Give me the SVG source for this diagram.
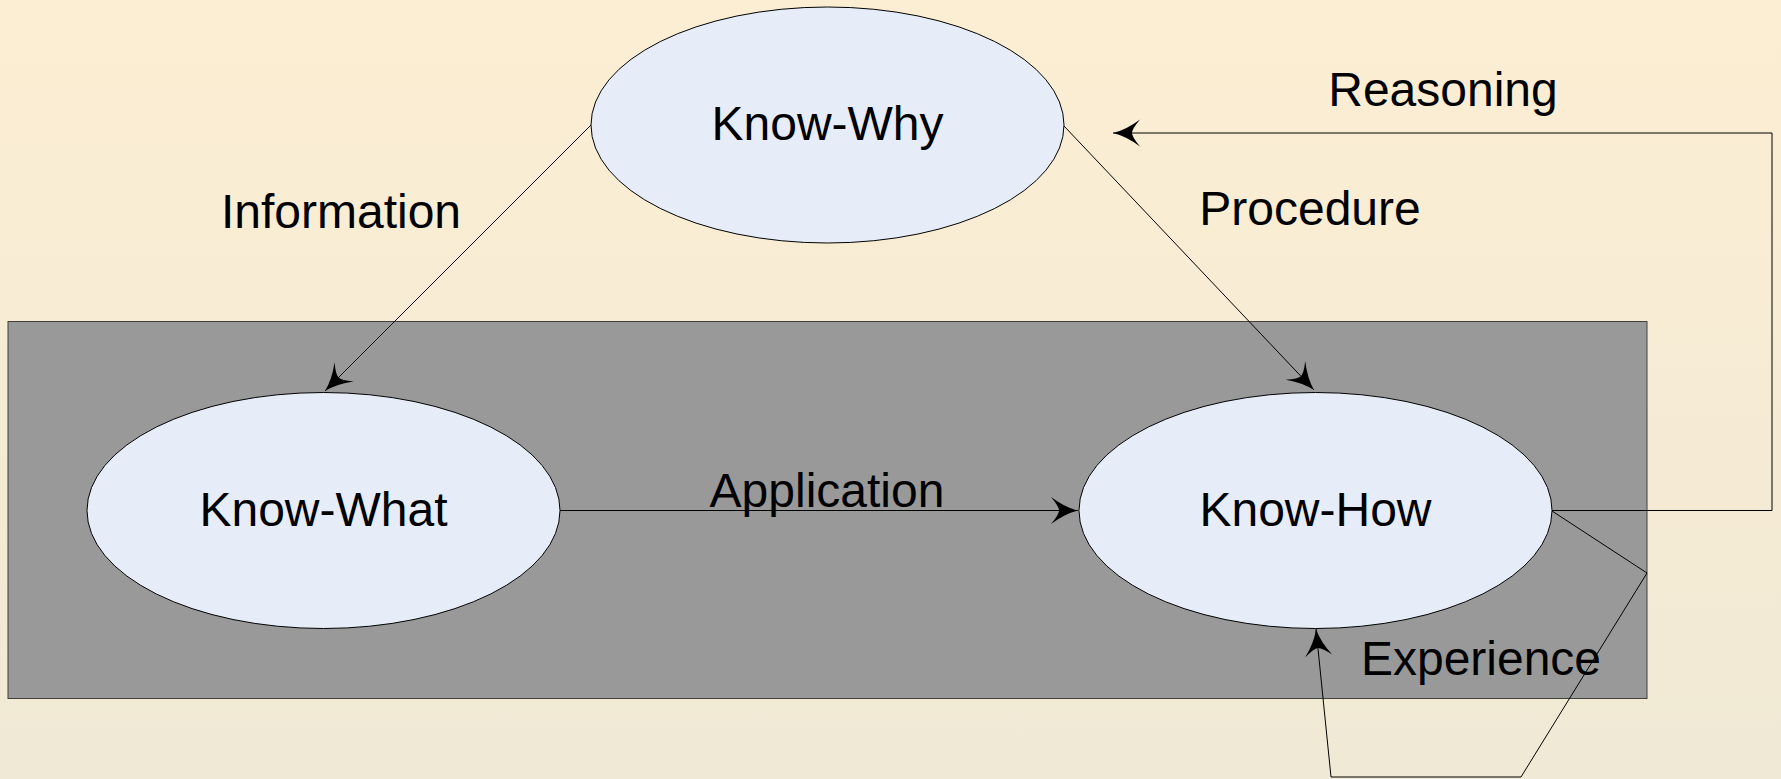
<svg xmlns="http://www.w3.org/2000/svg" width="1781" height="779" viewBox="0 0 1781 779">
  <defs>
    <linearGradient id="bg" x1="0" y1="0" x2="0" y2="1">
      <stop offset="0" stop-color="#FCEED3"/>
      <stop offset="1" stop-color="#F0E9D5"/>
    </linearGradient>
    <!-- curved, swept-back arrowhead; tip sits on the path end -->
    <marker id="arrow" markerUnits="userSpaceOnUse" viewBox="-30 -16 32 32" markerWidth="32" markerHeight="32" refX="0" refY="0" orient="auto" overflow="visible">
      <path d="M0,0 Q-13,-3 -27,-13.5 Q-19,-4 -19,0 Q-19,4 -27,13.5 Q-13,3 0,0 Z" fill="#000"/>
    </marker>
    <style>
      .node { fill: #E6EDF8; stroke: #000; stroke-width: 1; }
      .label { font-family: "Liberation Sans", Arial, sans-serif; font-size: 48px; fill: #000; text-anchor: middle; }
      .conn { fill: none; stroke: #000; stroke-width: 1; }
    </style>
  </defs>

  <!-- page background -->
  <rect x="0" y="0" width="1781" height="779" fill="url(#bg)"/>

  <!-- grey band holding the practical knowledge nodes -->
  <rect id="band" x="8" y="321.5" width="1639" height="377" fill="#999999" stroke="#404040" stroke-width="1"/>

  <!-- connectors -->
  <g id="connectors">
    <path class="conn" d="M591,125 L325,391" marker-end="url(#arrow)"/>
    <path class="conn" d="M1064,126 L1314,390" marker-end="url(#arrow)"/>
    <path class="conn" d="M560,510.5 L1078,510.5" marker-end="url(#arrow)"/>
    <path class="conn" d="M1552,510.5 H1772 V133 H1113" marker-end="url(#arrow)"/>
    <path class="conn" d="M1552,511 L1647,573 L1521,777 L1331,777 L1316,629" marker-end="url(#arrow)"/>
  </g>

  <!-- connector labels -->
  <g id="edge-labels">
    <text class="label" x="341" y="228">Information</text>
    <text class="label" x="1310" y="225">Procedure</text>
    <text class="label" x="1443" y="106">Reasoning</text>
    <text class="label" x="827" y="507">Application</text>
    <text class="label" x="1481" y="675">Experience</text>
  </g>

  <!-- nodes -->
  <g id="know-why">
    <ellipse class="node" cx="827.5" cy="125" rx="236.5" ry="118"/>
    <text class="label" x="827.5" y="140">Know-Why</text>
  </g>
  <g id="know-what">
    <ellipse class="node" cx="323.5" cy="510.5" rx="236.5" ry="118"/>
    <text class="label" x="323.5" y="526">Know-What</text>
  </g>
  <g id="know-how">
    <ellipse class="node" cx="1315.5" cy="510.5" rx="236.5" ry="118"/>
    <text class="label" x="1315.5" y="526">Know-How</text>
  </g>
</svg>
